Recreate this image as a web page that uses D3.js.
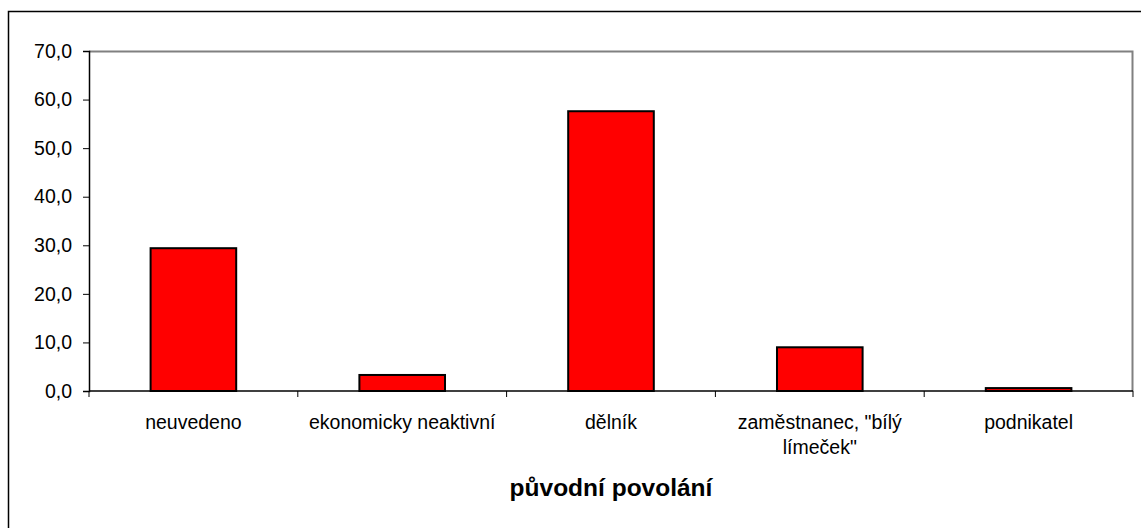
<!DOCTYPE html>
<html>
<head>
<meta charset="utf-8">
<script src="https://cdn.jsdelivr.net/npm/d3@7"></script>
<style>
  body { margin: 0; background: #fff; }
  text { font-family: "Liberation Sans", Arial, sans-serif; fill: #000; }
</style>
</head>
<body>
<div id="chart"></div>
<script>
// data
const categories = ["neuvedeno", "ekonomicky neaktivní", "dělník", "zaměstnanec, \"bílý límeček\"", "podnikatel"];
const values = [29.4, 3.3, 57.6, 9.0, 0.6];
const yTicks = [0, 10, 20, 30, 40, 50, 60, 70];
const xTitle = "původní povolání";

const width = 1141, height = 528;
const margin = { top: 51, right: 8, bottom: 137, left: 89 };
const plotW = width - margin.left - margin.right;
const plotH = height - margin.top - margin.bottom;

let svg = d3.select("#chart")
    .append("svg")
    .attr("width", width)
    .attr("height", height);

// outer chart border (runs off the right/bottom edge)
svg.append("rect")
    .attr("x", 8.5).attr("y", 11.5)
    .attr("width", width).attr("height", height)
    .attr("fill", "none")
    .attr("stroke", "#000")
    .attr("stroke-width", 1.5);

let g = svg.append("g")
    .attr("transform", `translate(${margin.left}, ${margin.top})`);

let x = d3.scaleBand()
    .domain(categories)
    .range([0, plotW])
    .paddingInner(0.59)
    .paddingOuter(0.295);

let y = d3.scaleLinear()
    .domain([0, 70])
    .range([plotH, 0]);

// plot area border: grey top and right
g.append("path")
    .attr("d", `M0,0.5H${plotW - 0.5}V${plotH}`)
    .attr("fill", "none")
    .attr("stroke", "#808080")
    .attr("stroke-width", 2);

// bars
g.selectAll("rect.bar")
    .data(values)
    .enter()
    .append("rect")
    .attr("class", "bar")
    .attr("x", (d, i) => x(categories[i]))
    .attr("y", d => y(d))
    .attr("width", x.bandwidth())
    .attr("height", d => y(0) - y(d))
    .attr("fill", "#ff0000")
    .attr("stroke", "#000")
    .attr("stroke-width", 2);

// y axis
let yAxis = g.append("g")
    .call(d3.axisLeft(y).tickValues(yTicks).tickSize(6).tickPadding(11)
        .tickFormat(d => d3.format(".1f")(d).replace(".", ",")));
yAxis.select(".domain").attr("stroke", "#000").attr("stroke-width", 1.5);
yAxis.selectAll(".tick line").attr("stroke", "#000");
yAxis.selectAll("text").style("font-size", "19.5px");

// x axis: category boundary ticks
let bounds = d3.range(categories.length + 1).map(i => i * plotW / categories.length);
let xAxis = g.append("g").attr("transform", `translate(0, ${plotH})`);
xAxis.append("line")
    .attr("x1", 0).attr("x2", plotW)
    .attr("stroke", "#000").attr("stroke-width", 1.5);
xAxis.selectAll("line.tk")
    .data(bounds)
    .enter()
    .append("line")
    .attr("class", "tk")
    .attr("x1", d => d).attr("x2", d => d)
    .attr("y1", 0).attr("y2", 6)
    .attr("stroke", "#000");

// category labels (wrap the long one)
const labelLines = [["neuvedeno"], ["ekonomicky neaktivní"], ["dělník"], ["zaměstnanec, \"bílý", "límeček\""], ["podnikatel"]];
labelLines.forEach(function (lines, i) {
    let t = xAxis.append("text")
        .attr("x", x(categories[i]) + x.bandwidth() / 2)
        .attr("y", 38)
        .style("text-anchor", "middle")
        .style("font-size", "19.5px");
    lines.forEach(function (ln, j) {
        t.append("tspan")
            .attr("x", x(categories[i]) + x.bandwidth() / 2)
            .attr("dy", j === 0 ? 0 : 25)
            .text(ln);
    });
});

// x-axis title
g.append("text")
    .attr("x", plotW / 2)
    .attr("y", plotH + 105)
    .style("text-anchor", "middle")
    .style("font-size", "24.5px")
    .style("font-weight", "bold")
    .text(xTitle);
</script>
</body>
</html>
